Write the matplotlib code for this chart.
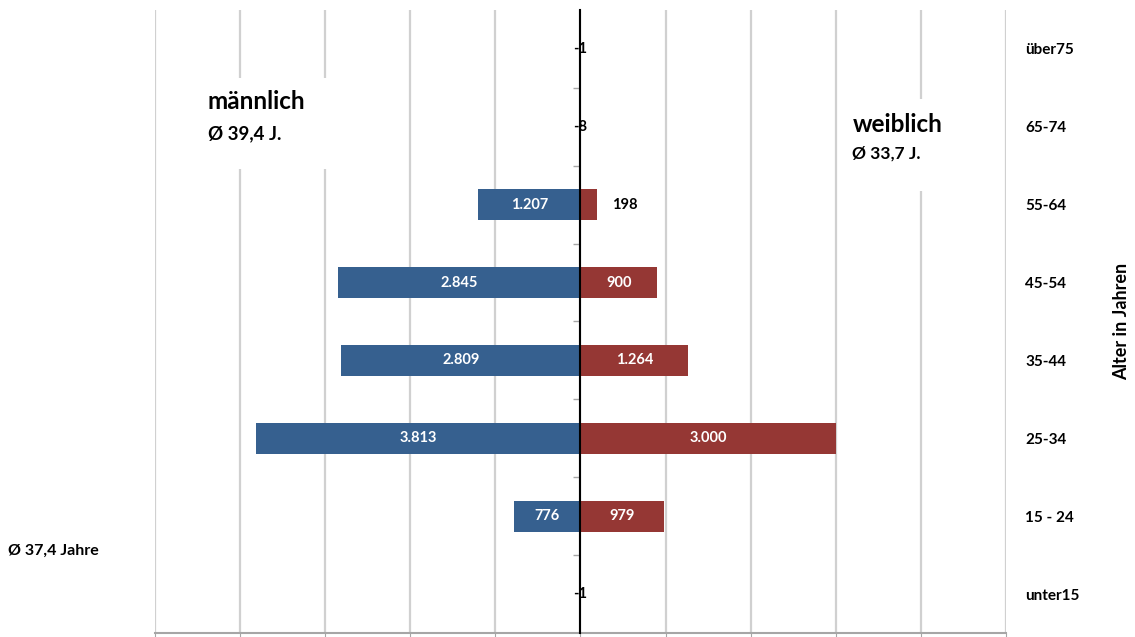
import matplotlib.pyplot as plt
from matplotlib.patches import Rectangle
import numpy as np

# age groups, top to bottom
groups = ["über75", "65-74", "55-64", "45-54", "35-44", "25-34", "15 - 24", "unter15"]
male = [1, 8, 1207, 2845, 2809, 3813, 776, 1]
female = [0, 0, 198, 900, 1264, 3000, 979, 0]
male_labels = ["-1", "-8", "1.207", "2.845", "2.809", "3.813", "776", "-1"]
female_labels = ["", "", "198", "900", "1.264", "3.000", "979", ""]

BLUE = "#36608F"
RED = "#953734"

plt.rcParams['font.family'] = ['Lato', 'DejaVu Sans']
plt.rcParams['font.weight'] = 'bold'

fig = plt.figure(figsize=(11.35, 6.37), dpi=100)
ax = fig.add_axes([0.1366, 0.0063, 0.7497, 0.978])

y = np.arange(len(groups))
male_neg = -np.array(male)
ax.barh(y, male_neg, height=0.4, color=BLUE, zorder=3)
ax.barh(y, female, height=0.4, color=RED, zorder=3)

ax.set_xlim(-5000, 5000)
ax.set_ylim(len(groups) - 0.5, -0.5)
ax.set_xticks(np.arange(-5000, 5001, 1000))
ax.set_xticklabels([])
ax.tick_params(axis='x', length=3, color="#A6A6A6")
ax.grid(axis='x', color="#D0D0D0", linewidth=1.6, zorder=0)

# central axis line with ticks between categories
ax.spines['left'].set_position(('data', 0))
ax.spines['left'].set_color("black")
ax.spines['left'].set_linewidth(1.5)
ax.spines['left'].set_zorder(4)
ax.spines['top'].set_visible(False)
ax.spines['right'].set_visible(False)
ax.spines['bottom'].set_color("#A6A6A6")
ax.spines['bottom'].set_linewidth(1.5)
ax.set_yticks([])
ax.set_yticks(np.arange(len(groups) - 1) + 0.5, minor=True)
ax.tick_params(axis='y', which='minor', length=5, color="#A6A6A6", width=1)

# bar labels
for i in range(len(groups)):
    mx = male_neg[i] / 2
    small = male[i] < 100
    ax.text(mx, y[i], male_labels[i], ha='center', va='center', fontsize=10.5,
            color='black' if small else 'white', zorder=5)
    if female_labels[i]:
        if female[i] < 400:
            ax.text(female[i] + 170, y[i], female_labels[i], ha='left', va='center',
                    fontsize=10.5, color='black', zorder=5)
        else:
            ax.text(female[i] / 2, y[i], female_labels[i], ha='center', va='center',
                    fontsize=10.5, color='white', zorder=5)

# right-hand category axis
ax2 = ax.twinx()
ax2.set_ylim(ax.get_ylim())
ax2.set_yticks(y)
ax2.set_yticklabels(groups, fontsize=11, ha='left')
ax2.tick_params(axis='y', length=0, pad=14)
for s in ax2.spines.values():
    s.set_visible(False)
ax2.set_ylabel("Alter in Jahren", fontsize=13, fontweight='bold')
ax2.yaxis.set_label_coords(1.126, 0.5)

# white boxes behind the gender annotations
ax.add_patch(Rectangle((-4480, 0.37), 1650, 1.17, facecolor='white', edgecolor='none', zorder=2))
ax.add_patch(Rectangle((3100, 0.64), 1820, 1.18, facecolor='white', edgecolor='none', zorder=2))

ax.text(-4383, 0.68, "männlich", fontsize=17.5, ha='left', va='center', zorder=6)
ax.text(-4383, 1.09, "Ø 39,4 J.", fontsize=13.5, ha='left', va='center', zorder=6)
ax.text(3196, 0.97, "weiblich", fontsize=17.5, ha='left', va='center', zorder=6)
ax.text(3196, 1.34, "Ø 33,7 J.", fontsize=12.5, ha='left', va='center', zorder=6)
fig.text(8 / 1135, 1 - 551 / 637, "Ø 37,4 Jahre", fontsize=11.5, ha='left', va='center')

fig.savefig("out.png", dpi=100)
